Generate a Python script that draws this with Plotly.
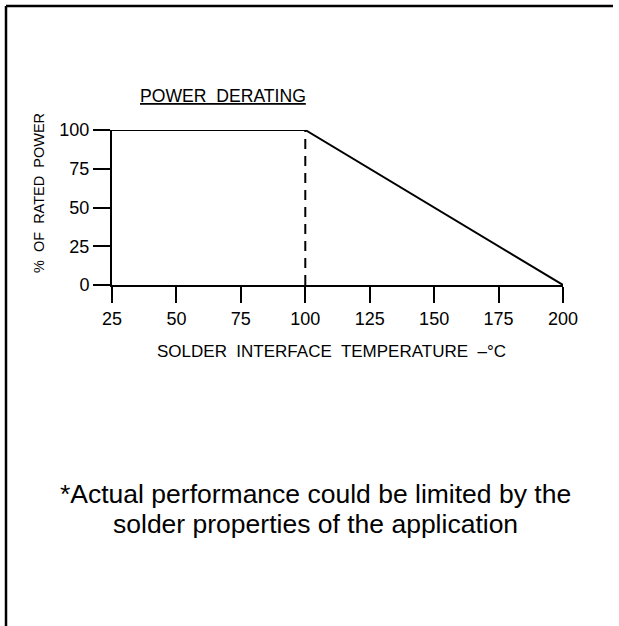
import plotly.graph_objects as go

# Data
temp_c = [25, 100, 200]
rated_power_pct = [100, 100, 0]
knee_x = [100, 100]
knee_y = [0, 100]
x_ticks = [25, 50, 75, 100, 125, 150, 175, 200]
y_ticks = [0, 25, 50, 75, 100]

W, H = 619, 626
L, R, T, B = 112, 563, 130, 285  # plot area pixel bounds

def px(x):
    return (x - L) / (R - L)

def py(y):
    return (B - y) / (B - T)

FONT = "Liberation Sans, Arial, sans-serif"

fig = go.Figure()
fig.add_trace(go.Scatter(x=temp_c, y=rated_power_pct, mode="lines",
                         line=dict(color="black", width=2), cliponaxis=False,
                         hoverinfo="skip"))
fig.add_trace(go.Scatter(x=knee_x, y=knee_y, mode="lines",
                         line=dict(color="black", width=2, dash="10px,7px"),
                         cliponaxis=False, hoverinfo="skip"))

axis_common = dict(showgrid=False, zeroline=False, showline=True, linecolor="black",
                   linewidth=2, ticks="outside", tickcolor="black", tickwidth=2,
                   tickfont=dict(family=FONT, size=18, color="black"), fixedrange=True)

fig.update_xaxes(range=[25, 200], tickvals=x_ticks, ticktext=[str(v) for v in x_ticks],
                 ticklen=16, **axis_common)
fig.update_yaxes(range=[0, 100], tickvals=y_ticks, ticktext=[str(v) for v in y_ticks],
                 ticklen=17, ticklabelstandoff=0, **axis_common)

annotations = [
    dict(text="<u>POWER  DERATING</u>", x=px(223), y=py(96), xref="paper", yref="paper",
         showarrow=False, font=dict(family=FONT, size=17.6, color="black"),
         xanchor="center", yanchor="middle"),
    dict(text="%  OF  RATED  POWER", x=px(39), y=py(193), xref="paper", yref="paper",
         showarrow=False, textangle=-90, font=dict(family=FONT, size=14.5, color="black"),
         xanchor="center", yanchor="middle"),
    dict(text="SOLDER  INTERFACE  TEMPERATURE  –°C", x=px(331), y=py(351), xref="paper",
         yref="paper", showarrow=False, font=dict(family=FONT, size=17, color="black"),
         xanchor="center", yanchor="middle"),
    dict(text="*Actual performance could be limited by the", x=px(315), y=py(494),
         xref="paper", yref="paper", showarrow=False,
         font=dict(family=FONT, size=26.5, color="black"), xanchor="center", yanchor="middle"),
    dict(text="solder properties of the application", x=px(315), y=py(524),
         xref="paper", yref="paper", showarrow=False,
         font=dict(family=FONT, size=26.5, color="black"), xanchor="center", yanchor="middle"),
]

shapes = [
    dict(type="line", xref="paper", yref="paper", x0=px(6), x1=px(613), y0=py(6), y1=py(6),
         line=dict(color="black", width=2.5)),
    dict(type="line", xref="paper", yref="paper", x0=px(6), x1=px(6), y0=py(6), y1=py(640),
         line=dict(color="black", width=2.5)),
]

fig.update_layout(width=W, height=H, margin=dict(l=L, r=W - R, t=T, b=H - B),
                  paper_bgcolor="white", plot_bgcolor="white", showlegend=False,
                  annotations=annotations, shapes=shapes)

fig.write_html("out.html", config={"displayModeBar": False},
               post_script="document.body.style.margin='0';document.body.style.overflow='hidden';")
